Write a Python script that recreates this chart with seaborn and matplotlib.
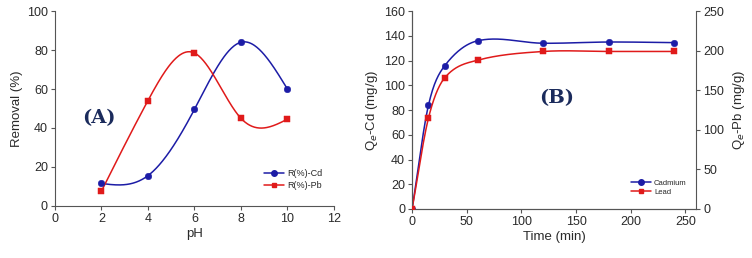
import numpy as np
import pandas as pd
import matplotlib
matplotlib.use("Agg")
import matplotlib.pyplot as plt
from matplotlib.lines import Line2D
import seaborn as sns

# (A) removal vs pH
ph = [2, 4, 6, 8, 10]
removal_cd = [11.5, 15.5, 49.5, 84.0, 60.0]
removal_pb = [7.5, 54.0, 78.5, 45.0, 44.5]

# (B) uptake vs time
time_min = [0, 15, 30, 60, 120, 180, 240]
qe_cd = [0, 84, 116, 136, 134, 135, 134.5]
qe_pb = [0, 115, 166, 188, 199, 199, 199]

BLUE = "#1c1ca6"
RED = "#e01a1a"
LABEL_COL = "#1b2b5c"


def natural_spline(x, y, n=300):
    # natural cubic spline through the points, just for the smooth line
    x = np.asarray(x, float)
    y = np.asarray(y, float)
    k = len(x)
    h = np.diff(x)
    A = np.zeros((k, k))
    r = np.zeros(k)
    A[0, 0] = A[-1, -1] = 1
    for i in range(1, k - 1):
        A[i, i - 1] = h[i - 1]
        A[i, i] = 2 * (h[i - 1] + h[i])
        A[i, i + 1] = h[i]
        r[i] = 3 * ((y[i + 1] - y[i]) / h[i] - (y[i] - y[i - 1]) / h[i - 1])
    c = np.linalg.solve(A, r)
    b = np.diff(y) / h - h * (2 * c[:-1] + c[1:]) / 3
    d = np.diff(c) / (3 * h)
    xs = np.linspace(x[0], x[-1], n)
    idx = np.clip(np.searchsorted(x, xs) - 1, 0, k - 2)
    t = xs - x[idx]
    ys = y[idx] + b[idx] * t + c[idx] * t ** 2 + d[idx] * t ** 3
    return pd.DataFrame({"x": xs, "y": ys})


def hermite_curve(x, y, n=400):
    # cardinal (catmull-rom like) curve, less overshoot on the plateau
    x = np.asarray(x, float)
    y = np.asarray(y, float)
    m = np.zeros_like(y)
    m[1:-1] = (y[2:] - y[:-2]) / (x[2:] - x[:-2])
    m[0] = (y[1] - y[0]) / (x[1] - x[0])
    m[-1] = (y[-1] - y[-2]) / (x[-1] - x[-2])
    xs = np.linspace(x[0], x[-1], n)
    idx = np.clip(np.searchsorted(x, xs) - 1, 0, len(x) - 2)
    h = x[idx + 1] - x[idx]
    t = (xs - x[idx]) / h
    h00 = 2 * t ** 3 - 3 * t ** 2 + 1
    h10 = t ** 3 - 2 * t ** 2 + t
    h01 = -2 * t ** 3 + 3 * t ** 2
    h11 = t ** 3 - t ** 2
    ys = h00 * y[idx] + h10 * h * m[idx] + h01 * y[idx + 1] + h11 * h * m[idx + 1]
    return pd.DataFrame({"x": xs, "y": ys})


sns.set_style("ticks")
plt.rcParams["font.family"] = ["Liberation Sans", "DejaVu Sans"]
plt.rcParams["axes.linewidth"] = 0.8
plt.rcParams["axes.edgecolor"] = "#555555"
plt.rcParams["xtick.color"] = "#555555"
plt.rcParams["ytick.color"] = "#555555"
plt.rcParams["xtick.labelcolor"] = "#2a2a2a"
plt.rcParams["ytick.labelcolor"] = "#2a2a2a"
plt.rcParams["axes.labelcolor"] = "#2a2a2a"

TICK_FS = 9
LAB_FS = 9.5

fig = plt.figure(figsize=(7.52, 2.58), dpi=100)
ax1 = fig.add_axes([0.073, 0.202, 0.371, 0.755])
ax2 = fig.add_axes([0.548, 0.19, 0.378, 0.767])

# ---- panel A ----
sns.lineplot(data=natural_spline(ph, removal_cd), x="x", y="y", ax=ax1, color=BLUE, lw=1.1)
sns.lineplot(data=natural_spline(ph, removal_pb), x="x", y="y", ax=ax1, color=RED, lw=1.1)
sns.scatterplot(x=ph, y=removal_cd, ax=ax1, color=BLUE, marker="o", s=22, edgecolor=BLUE, zorder=3)
sns.scatterplot(x=ph, y=removal_pb, ax=ax1, color=RED, marker="s", s=18, edgecolor=RED, zorder=3)
ax1.set_xlim(0, 12)
ax1.set_ylim(0, 100)
ax1.set_xticks(range(0, 13, 2))
ax1.set_yticks(range(0, 101, 20))
ax1.set_xlabel("pH", fontsize=LAB_FS, labelpad=2)
ax1.set_ylabel("Removal (%)", fontsize=LAB_FS, labelpad=3)
ax1.tick_params(labelsize=TICK_FS, length=3, width=0.8, pad=2)
sns.despine(ax=ax1)
ax1.text(1.9, 45, "(A)", fontsize=14, fontweight="bold", family="DejaVu Serif",
         color=LABEL_COL, ha="center", va="center")
h1 = [Line2D([], [], color=BLUE, marker="o", ms=4, lw=1.1),
      Line2D([], [], color=RED, marker="s", ms=3.5, lw=1.1)]
ax1.legend(h1, ["R(%)-Cd", "R(%)-Pb"], loc="lower right", bbox_to_anchor=(0.99, 0.04),
           frameon=False, fontsize=6.5, handlelength=2.2, labelspacing=0.3, handletextpad=0.4)

# ---- panel B ----
ax3 = ax2.twinx()
sns.lineplot(data=hermite_curve(time_min, qe_cd), x="x", y="y", ax=ax2, color=BLUE, lw=1.1)
sns.scatterplot(x=time_min, y=qe_cd, ax=ax2, color=BLUE, marker="o", s=22, edgecolor=BLUE, zorder=3)
sns.lineplot(data=hermite_curve(time_min, qe_pb), x="x", y="y", ax=ax3, color=RED, lw=1.1)
sns.scatterplot(x=time_min, y=qe_pb, ax=ax3, color=RED, marker="s", s=18, edgecolor=RED, zorder=3)
ax2.set_xlim(0, 260)
ax2.set_ylim(0, 160)
ax3.set_ylim(0, 250)
ax2.set_xticks(range(0, 251, 50))
ax2.set_yticks(range(0, 161, 20))
ax3.set_yticks(range(0, 251, 50))
ax2.set_xlabel("Time (min)", fontsize=LAB_FS, labelpad=2)
ax2.set_ylabel("Q$_e$-Cd (mg/g)", fontsize=LAB_FS, labelpad=3)
ax3.set_ylabel("Q$_e$-Pb (mg/g)", fontsize=LAB_FS, labelpad=5)
ax2.tick_params(labelsize=TICK_FS, length=3, width=0.8, pad=2)
ax3.tick_params(labelsize=TICK_FS, length=3, width=0.8, pad=2)
for a in (ax2, ax3):
    a.spines["top"].set_visible(False)
ax2.spines["right"].set_visible(False)
ax2.text(132, 90, "(B)", fontsize=14, fontweight="bold", family="DejaVu Serif",
         color=LABEL_COL, ha="center", va="center")
h2 = [Line2D([], [], color=BLUE, marker="o", ms=4, lw=1.1),
      Line2D([], [], color=RED, marker="s", ms=3.5, lw=1.1)]
ax3.legend(h2, ["Cadmium", "Lead"], loc="lower right", bbox_to_anchor=(0.99, 0.03),
           frameon=False, fontsize=5.5, handlelength=2.6, labelspacing=0.3, handletextpad=0.4)

fig.savefig("out.png", dpi=100)
